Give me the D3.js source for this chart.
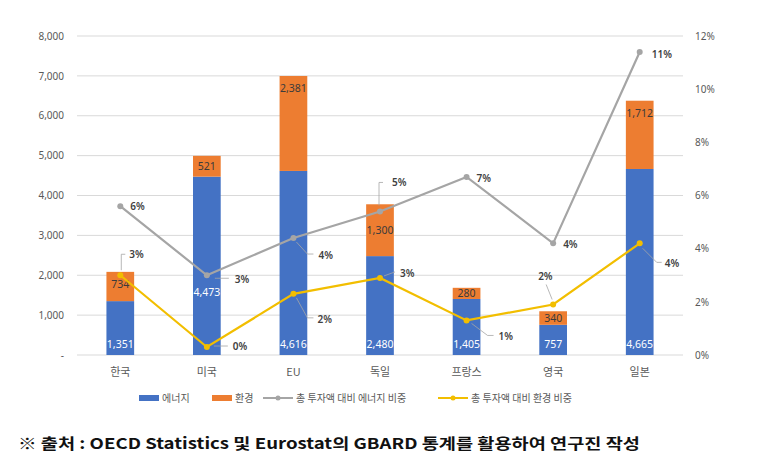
<!DOCTYPE html>
<html><head><meta charset="utf-8">
<script src="https://cdn.jsdelivr.net/npm/d3@7"></script>
<style>
body{margin:0;background:#fff;}
text{font-family:"Noto Sans CJK KR","Noto Sans",sans-serif;}
</style></head>
<body><svg id="c" width="780" height="465"></svg>
<script>
const categories = ["한국","미국","EU","독일","프랑스","영국","일본"];
const energy = [1351,4473,4616,2480,1405,757,4665];
const environment = [734,521,2381,1300,280,340,1712];
const energyShare = [5.6,3.0,4.4,5.4,6.7,4.2,11.4];
const envShare = [3.0,0.3,2.3,2.9,1.3,1.9,4.2];
const leftTicks = [0,1000,2000,3000,4000,5000,6000,7000,8000];
const rightTicks = [0,2,4,6,8,10,12];
const seriesNames = ["에너지","환경","총 투자액 대비 에너지 비중","총 투자액 대비 환경 비중"];
const source = "※ 출처 : OECD Statistics 및 Eurostat의 GBARD 통계를 활용하여 연구진 작성";

const C = {blue:"#4472C4", orange:"#ED7D31", gray:"#A5A5A5", yellow:"#F2BE00", text:"#595959", grid:"#D9D9D9"};
const svg = d3.select("#c");
const L = 77, R = 683, T = 36, B = 355;

const x = d3.scaleBand().domain(categories).range([L,R]).paddingInner(0.68).paddingOuter(0.34);
const yL = d3.scaleLinear().domain([0,8000]).range([B,T]);
const yR = d3.scaleLinear().domain([0,12]).range([B,T]);

// gridlines
svg.append("g").selectAll("line").data(leftTicks).join("line")
  .attr("x1",L).attr("x2",R).attr("y1",d=>yL(d)).attr("y2",d=>yL(d))
  .attr("stroke",C.grid).attr("stroke-width",1);

const fmt = d3.format(",");
const numFont = "'Noto Sans','Open Sans',sans-serif";
// left axis
const axL = svg.append("g").attr("transform",`translate(${L},0)`)
  .call(d3.axisLeft(yL).tickValues(leftTicks).tickSize(0).tickPadding(13).tickFormat(d=>d===0?"-":fmt(d)));
axL.select(".domain").remove();
axL.selectAll("text").attr("fill",C.text).style("font-size","10px").style("font-family",numFont);

// right axis
const axR = svg.append("g").attr("transform",`translate(${R},0)`)
  .call(d3.axisRight(yR).tickValues(rightTicks).tickSize(0).tickPadding(12).tickFormat(d=>d+"%"));
axR.select(".domain").remove();
axR.selectAll("text").attr("fill",C.text).style("font-size","10px").style("font-family",numFont);

// x labels
svg.append("g").selectAll("text").data(categories).join("text")
  .attr("x",d=>x(d)+x.bandwidth()/2).attr("y",376).attr("text-anchor","middle")
  .attr("fill",C.text).style("font-size","11px").text(d=>d);

// bars
const bw = x.bandwidth();
const g = svg.append("g");
g.selectAll("rect.e").data(categories).join("rect").attr("class","e")
  .attr("x",d=>x(d)).attr("width",bw)
  .attr("y",(d,i)=>yL(energy[i])).attr("height",(d,i)=>B-yL(energy[i])).attr("fill",C.blue);
g.selectAll("rect.v").data(categories).join("rect").attr("class","v")
  .attr("x",d=>x(d)).attr("width",bw)
  .attr("y",(d,i)=>yL(energy[i]+environment[i])).attr("height",(d,i)=>yL(energy[i])-yL(energy[i]+environment[i])).attr("fill",C.orange);

// bar labels
const energyLift = [0,52,0,0,0,0,0];
g.selectAll("text.el").data(categories).join("text")
  .attr("x",d=>x(d)+bw/2).attr("y",(d,i)=>B-7-energyLift[i]).attr("text-anchor","middle")
  .attr("fill","#fff").style("font-size","10.5px").style("font-family",numFont)
  .text((d,i)=>fmt(energy[i]));
const envMode = ["end","end","end","center","end","end","end"];
g.selectAll("text.vl").data(categories).join("text")
  .attr("x",d=>x(d)+bw/2)
  .attr("y",(d,i)=>{
    const top = yL(energy[i]+environment[i]), bot = yL(energy[i]);
    const c = (top+bot)/2;
    return (envMode[i]==="center"? c : Math.min(c, top+12)) + 4;
  })
  .attr("text-anchor","middle").attr("fill","#3b3b3b").style("font-size","10.5px").style("font-family",numFont)
  .text((d,i)=>fmt(environment[i]));

// lines
function drawLine(vals,color){
  const pts = categories.map((c,i)=>[x(c)+bw/2, yR(vals[i])]);
  svg.append("path").attr("d",d3.line()(pts)).attr("fill","none").attr("stroke",color).attr("stroke-width",2.2);
  svg.append("g").selectAll("circle").data(pts).join("circle")
    .attr("cx",d=>d[0]).attr("cy",d=>d[1]).attr("r",3).attr("fill",color);
  return pts;
}
const pGray = drawLine(energyShare,C.gray);
const pYel = drawLine(envShare,C.yellow);

// data labels with leaders: [labelDx, labelDy, leader path relative to point or null]
const grayLayout = [
  [10,4,null],
  [28,8,[[8,3],[10,3],[22,3]]],
  [25,21,[[3,4],[14,16],[20,16]]],
  [12,-25,[[-1,-6],[-1,-29],[3,-29]]],
  [10,5,null],
  [10,5,null],
  [12,6,null]
];
const yelLayout = [
  [9,-17,[[1,-5],[1,-21],[5,-21]]],
  [26,3,[[7,-1],[21,-1]]],
  [24,29,[[3,4],[14,24],[20,24]]],
  [20,-1,[[4,-2],[15,-6]]],
  [32,20,[[5,3],[21,15],[27,15]]],
  [-15,-24,[[-1,-5],[-7,-20]]],
  [25,24,[[3,5],[17,19],[22,19]]]
];
function drawLabels(pts,vals,layout){
  const lg = svg.append("g");
  pts.forEach((p,i)=>{
    const [dx,dy,lead] = layout[i];
    if(lead){
      lg.append("path").attr("d",d3.line()(lead.map(q=>[p[0]+q[0],p[1]+q[1]])))
        .attr("fill","none").attr("stroke","#A6A6A6").attr("stroke-width",0.8);
    }
    lg.append("text").attr("x",p[0]+dx).attr("y",p[1]+dy).attr("fill","#404040")
      .style("font-size","10px").style("font-weight","600").style("font-family",numFont)
      .text(Math.round(vals[i])+"%");
  });
}
drawLabels(pGray,energyShare,grayLayout);
drawLabels(pYel,envShare,yelLayout);

// legend
const lg = svg.append("g").attr("transform","translate(0,398)");
const items = [
  {t:"rect",c:C.blue,x:139,name:seriesNames[0]},
  {t:"rect",c:C.orange,x:212,name:seriesNames[1]},
  {t:"line",c:C.gray,x:263,name:seriesNames[2]},
  {t:"line",c:C.yellow,x:438,name:seriesNames[3]}
];
items.forEach(it=>{
  if(it.t==="rect"){
    lg.append("rect").attr("x",it.x).attr("y",-3).attr("width",20).attr("height",6).attr("fill",it.c);
    lg.append("text").attr("x",it.x+23).attr("y",4).attr("fill",C.text).style("font-size","10px").text(it.name);
  } else {
    lg.append("line").attr("x1",it.x).attr("x2",it.x+30).attr("y1",0).attr("y2",0).attr("stroke",it.c).attr("stroke-width",2);
    lg.append("circle").attr("cx",it.x+15).attr("cy",0).attr("r",2.5).attr("fill",it.c);
    lg.append("text").attr("x",it.x+33).attr("y",4).attr("fill",C.text).style("font-size","10px").text(it.name);
  }
});

// source
svg.append("text").attr("x",18).attr("y",449).attr("fill","#111")
  .style("font-size","15px").style("font-weight","bold")
  .attr("textLength",622).attr("lengthAdjust","spacingAndGlyphs")
  .text(source);
</script></body></html>
